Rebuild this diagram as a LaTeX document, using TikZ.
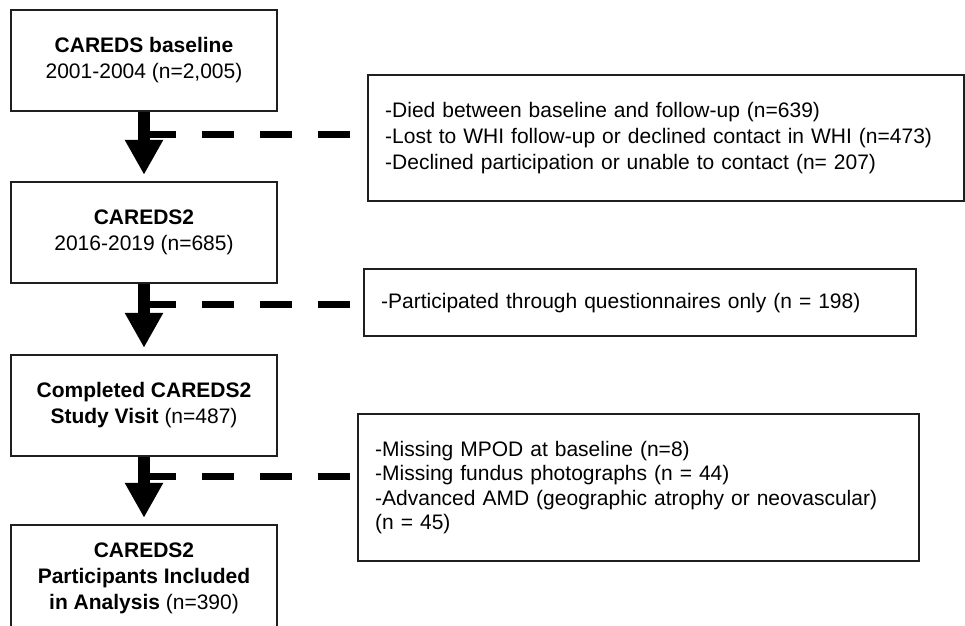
\documentclass[tikz,border=0pt]{standalone}
\usepackage{fontspec}
\setmainfont{Liberation Sans}
\usetikzlibrary{arrows.meta}

\begin{document}
\begin{tikzpicture}[x=1pt, y=-1pt,
    stagebox/.style={draw=black!88, line width=2.4pt, align=center, inner sep=0pt,
      minimum width=266pt, font=\fontsize{21}{26}\selectfont},
    exclbox/.style={draw=black!88, line width=2.4pt, align=left, anchor=north west,
      inner xsep=17pt, inner ysep=0pt, font=\fontsize{21}{26}\selectfont},
    flowarrow/.style={line width=12pt, -{Triangle[width=36pt, length=35pt]}, shorten >=6pt},
    exclline/.style={line width=7pt, dash pattern=on 32pt off 26pt}]
  \useasboundingbox (0,0) rectangle (965,625);
  \clip (0,0) rectangle (965,625);

  %% --- left column: study stages ---
  \node[stagebox, minimum height=101pt] (base) at (144,60.5)
    {\textbf{CAREDS baseline}\\2001-2004 (n=2,005)};
  \node[stagebox, minimum height=101pt] (cards) at (144,232.5)
    {\textbf{CAREDS2}\\2016-2019 (n=685)};
  \node[stagebox, minimum height=101pt] (visit) at (144,405.5)
    {\textbf{Completed CAREDS2}\\\textbf{Study Visit} (n=487)};
  \node[stagebox, minimum height=107pt] (incl) at (144,578.5)
    {\textbf{CAREDS2}\\\textbf{Participants Included}\\\textbf{in Analysis} (n=390)};

  %% --- right column: exclusions ---
  \node[exclbox, text width=562pt, minimum height=126pt] (lost) at (367,74)
    {-Died between baseline and follow-up (n=639)\\
     -Lost to WHI follow-up or declined contact in WHI (n=473)\\
     -Declined participation or unable to contact (n= 207)};
  \node[exclbox, text width=518pt, minimum height=67pt] (quest) at (363,268)
    {-Participated through questionnaires only (n = 198)};
  \node[exclbox, text width=527pt, minimum height=147pt,
        font=\fontsize{21}{24.5}\selectfont] (miss) at (357,413)
    {-Missing MPOD at baseline (n=8)\\
     -Missing fundus photographs (n = 44)\\
     -Advanced AMD (geographic atrophy or neovascular)\\
     (n = 45)};

  %% dashed branches (drawn first, the arrow shafts cover their start)
  \coordinate (d1) at (144,134.5);
  \coordinate (d2) at (144,304);
  \coordinate (d3) at (144,476);
  \draw[exclline] (d1) -- (d1 -| lost.west);
  \draw[exclline] (d2) -- (d2 -| quest.west);
  \draw[exclline] (d3) -- (d3 -| miss.west);

  %% main flow
  \draw[flowarrow] (base.south) -- (cards.north);
  \draw[flowarrow] (cards.south) -- (visit.north);
  \draw[flowarrow] (visit.south) -- (incl.north);
\end{tikzpicture}
\end{document}
